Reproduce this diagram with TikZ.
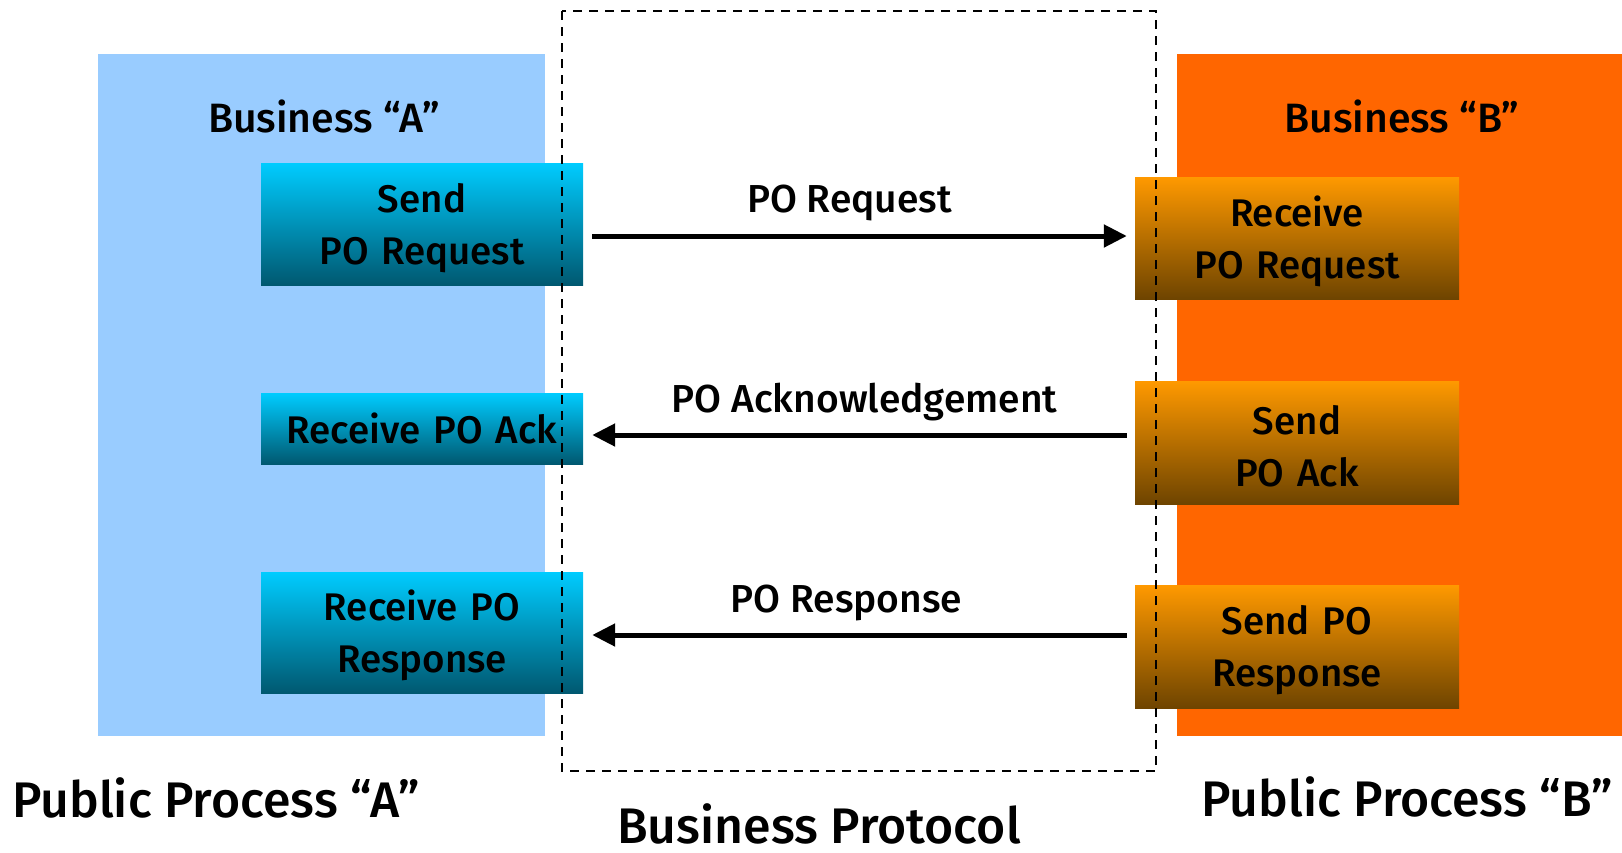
\documentclass[tikz,border=0pt]{standalone}
\usepackage{fontspec}
\setmainfont{Fira Sans}[UprightFont={* Medium}]
\usetikzlibrary{positioning, arrows.meta}
\definecolor{panelblue}{HTML}{99CCFF}
\definecolor{panelorange}{HTML}{FF6600}
\definecolor{bluetop}{HTML}{00CCFF}
\definecolor{bluebot}{HTML}{005870}
\definecolor{orangetop}{HTML}{FF9900}
\definecolor{orangebot}{HTML}{6E4400}

\begin{document}
\begin{tikzpicture}[
  x=1pt, y=-1pt,
  panel/.style={rectangle, draw=none, inner sep=0pt, minimum height=682pt, minimum width=#1},
  stepA/.style={rectangle, top color=bluetop, bottom color=bluebot, inner sep=0pt,
    minimum width=322pt, text width=320pt, align=center, font=\fontsize{38.5}{52}\selectfont},
  stepB/.style={rectangle, top color=orangetop, bottom color=orangebot, inner sep=0pt,
    minimum width=324pt, text width=320pt, align=center, font=\fontsize{38.5}{52}\selectfont},
  msg/.style={-{Triangle[length=23pt, width=22pt]}, line width=5pt},
  lbl/.style={font=\fontsize{39}{44}\selectfont, anchor=base, inner sep=0pt},
  big/.style={font=\fontsize{50}{56}\selectfont, inner sep=0pt},
  proto/.style={draw, line width=2pt, dash pattern=on 9pt off 7pt}
]
\useasboundingbox (0,0) rectangle (1622,852);

% --- Public process A (left) ---
\node[panel=447pt, fill=panelblue] (pubA) at (321.5, 395) {};
\node[lbl, font=\fontsize{41}{44}\selectfont] (busA) at (324, 132) {Business “A”};
\node[stepA, minimum height=122pt] (sendReq) at (422, 224) {\strut Send\\PO Request};
\node[stepA, minimum height=71pt] (recvAck) at (422, 428.5) {Receive PO Ack};
\node[stepA, minimum height=121pt] (recvResp) at (422, 632.5) {\strut Receive PO\\Response};

% --- Public process B (right) ---
\node[panel=445pt, fill=panelorange] (pubB) at (1399.5, 395) {};
\node[lbl, font=\fontsize{41}{44}\selectfont] (busB) at (1402, 132) {Business “B”};
\node[stepB, minimum height=122pt] (recvReq) at (1297, 238) {\strut Receive\\PO Request};
\node[stepB, minimum height=123pt] (sendAck) at (1297, 442.5) {\strut Send\\PO Ack};
\node[stepB, minimum height=123pt] (sendResp) at (1297, 646.5) {\strut Send PO\\Response};

% --- Business protocol (middle) ---
\draw[proto] (562, 11) rectangle (1156, 771);
\draw[msg] ([shift={(9pt,-12pt)}]sendReq.east) -- ([shift={(-8pt,-12pt)}]sendReq.east -| recvReq.west)
  node[lbl, pos=0.5, xshift=-10pt, yshift=24pt] {PO Request};
\draw[msg] ([shift={(-8pt,-6.5pt)}]recvAck.east -| sendAck.west) -- ([shift={(9pt,-6.5pt)}]recvAck.east)
  node[lbl, pos=0.5, xshift=5pt, yshift=23pt] {PO Acknowledgement};
\draw[msg] ([shift={(-8pt,-2.5pt)}]recvResp.east -| sendResp.west) -- ([shift={(9pt,-2.5pt)}]recvResp.east)
  node[lbl, pos=0.5, xshift=-13pt, yshift=23pt] {PO Response};

% --- captions ---
\node[big, anchor=base west] (capA) at (12, 817) {Public Process “A”};
\node[big, anchor=base] (capB) at (1407, 816) {Public Process “B”};
\node[big, anchor=base] (capP) at (819, 843) {Business Protocol};
\end{tikzpicture}
\end{document}
